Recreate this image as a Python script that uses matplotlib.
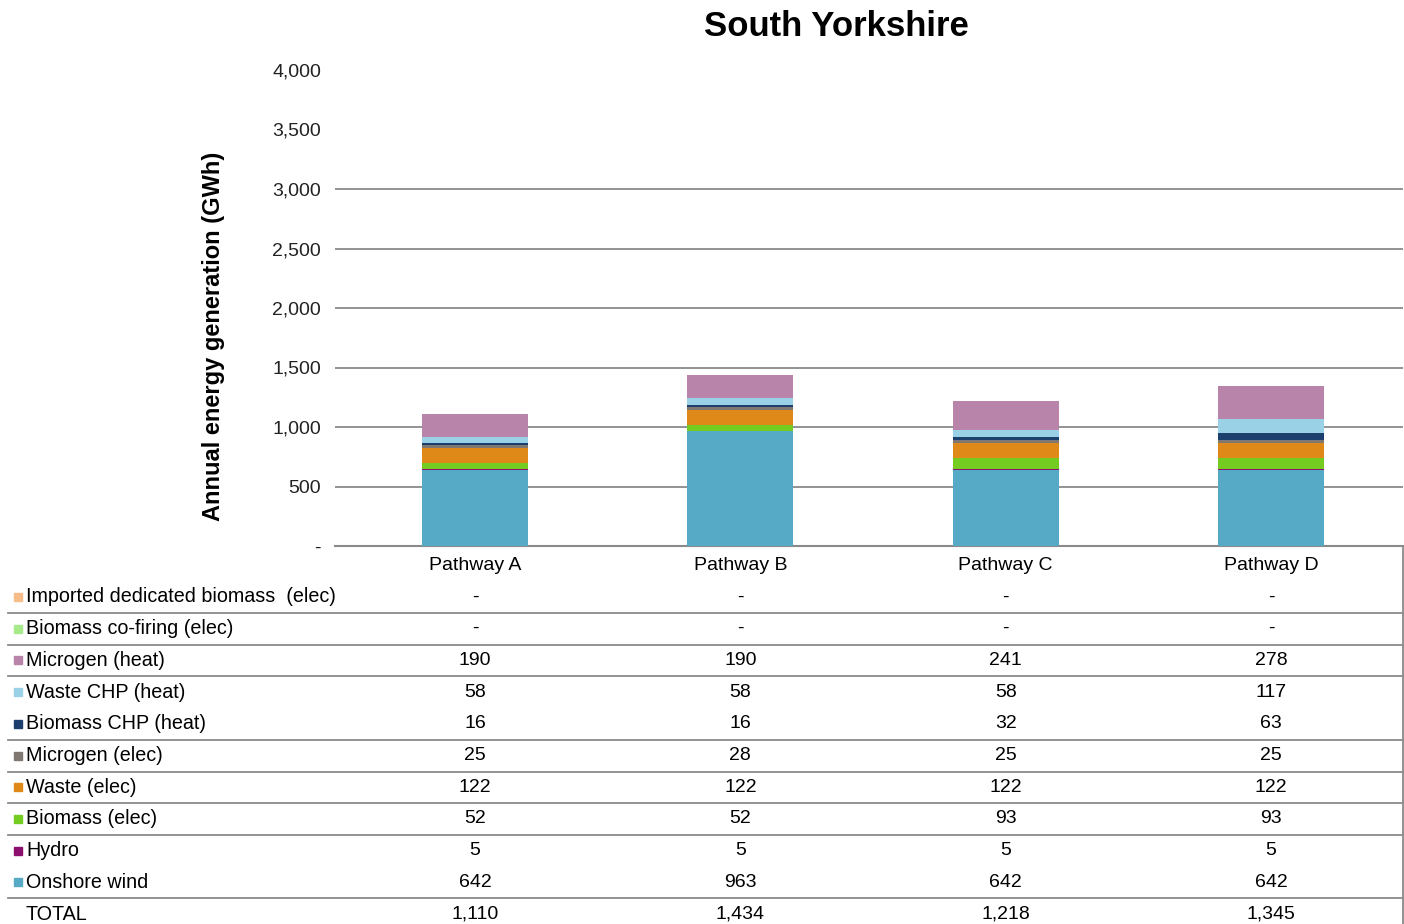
import matplotlib
matplotlib.use("Agg")
import matplotlib.pyplot as plt
from matplotlib.transforms import blended_transform_factory
from matplotlib.lines import Line2D
from matplotlib.patches import Rectangle

plt.rcParams["font.family"] = ["Liberation Sans", "DejaVu Sans"]

pathways = ["Pathway A", "Pathway B", "Pathway C", "Pathway D"]

# stacked from the bottom up
sources = [
    "Onshore wind",
    "Hydro",
    "Biomass (elec)",
    "Waste (elec)",
    "Microgen (elec)",
    "Biomass CHP (heat)",
    "Waste CHP (heat)",
    "Microgen (heat)",
    "Biomass co-firing (elec)",
    "Imported dedicated biomass  (elec)",
]
onshore_wind = [642, 963, 642, 642]
hydro = [5, 5, 5, 5]
biomass_elec = [52, 52, 93, 93]
waste_elec = [122, 122, 122, 122]
microgen_elec = [25, 28, 25, 25]
biomass_chp = [16, 16, 32, 63]
waste_chp = [58, 58, 58, 117]
microgen_heat = [190, 190, 241, 278]
cofiring = [0, 0, 0, 0]
imported = [0, 0, 0, 0]

series = [onshore_wind, hydro, biomass_elec, waste_elec, microgen_elec,
          biomass_chp, waste_chp, microgen_heat, cofiring, imported]
colors = ["#57AAC6", "#8C0F70", "#73CC1F", "#DF8A18", "#7F7771",
          "#1C3F6D", "#9BD1E6", "#B884A9", "#A7EA8B", "#F8BC8B"]

yticks = [0, 500, 1000, 1500, 2000, 2500, 3000, 3500, 4000]
ytick_labels = ["-", "500", "1,000", "1,500", "2,000", "2,500", "3,000", "3,500", "4,000"]

W, H = 1404, 924
fig = plt.figure(figsize=(W / 100, H / 100), dpi=100)
ax = fig.add_axes([335 / W, 1 - 546 / H, 1068 / W, 476 / H])

x = range(len(pathways))
bottom = [0] * len(pathways)
for vals, c in zip(series, colors):
    ax.bar(x, vals, width=0.4, bottom=bottom, color=c, linewidth=0, zorder=3)
    bottom = [b + v for b, v in zip(bottom, vals)]
totals = bottom

ax.set_xlim(-0.528, 3.498)
ax.set_ylim(0, 4000)
ax.set_yticks(yticks)
ax.set_yticklabels(ytick_labels, fontsize=14, color="#222222")
ax.tick_params(axis="y", length=0, pad=10)
ax.set_xticks(list(x))
ax.set_xticklabels(pathways, fontsize=14)
ax.tick_params(axis="x", length=0, pad=8)
for s in ["top", "right", "left"]:
    ax.spines[s].set_visible(False)
ax.spines["bottom"].set_color("#8a8a8a")
ax.spines["bottom"].set_linewidth(1.5)

for g in [500, 1000, 1500, 2000, 2500, 3000]:
    ax.axhline(g, color="#8a8a8a", linewidth=1.3, zorder=1)

ax.set_ylabel("Annual energy generation (GWh)", fontsize=17, fontweight="bold")
ax.yaxis.set_label_coords(-0.103, 0.441)

fig.text(836 / W, 1 - 27 / H, "South Yorkshire", fontsize=25, fontweight="bold",
         ha="center", va="center")

# data table under the chart
tr = blended_transform_factory(ax.transData, fig.transFigure)
row_labels = sources[::-1] + ["TOTAL"]
row_values = series[::-1] + [totals]
row_colors = colors[::-1] + [None]
row_h = 31.7
y0 = 597
for i, (lab, vals, c) in enumerate(zip(row_labels, row_values, row_colors)):
    yc = 1 - (y0 + i * row_h) / H
    if c is not None:
        fig.patches.append(Rectangle((14 / W, yc - 4 / H), 8 / W, 8 / H,
                                     transform=fig.transFigure, color=c, figure=fig))
    fig.text(26 / W, yc, lab, fontsize=14.2, ha="left", va="center")
    for j, v in enumerate(vals):
        txt = f"{v:,}" if v else "-"
        fig.text(j, yc, txt, fontsize=14, ha="center", va="center", transform=tr)

for i in [0, 1, 2, 4, 5, 6, 7, 9]:
    yl = 1 - (y0 + i * row_h + 16) / H
    fig.lines.append(Line2D([8 / W, 1403 / W], [yl, yl], transform=fig.transFigure,
                            color="#8a8a8a", linewidth=1.3))
fig.lines.append(Line2D([1403 / W, 1403 / W], [1 - 546 / H, 0], transform=fig.transFigure,
                        color="#8a8a8a", linewidth=1.3))

fig.savefig("out.png", dpi=100)
